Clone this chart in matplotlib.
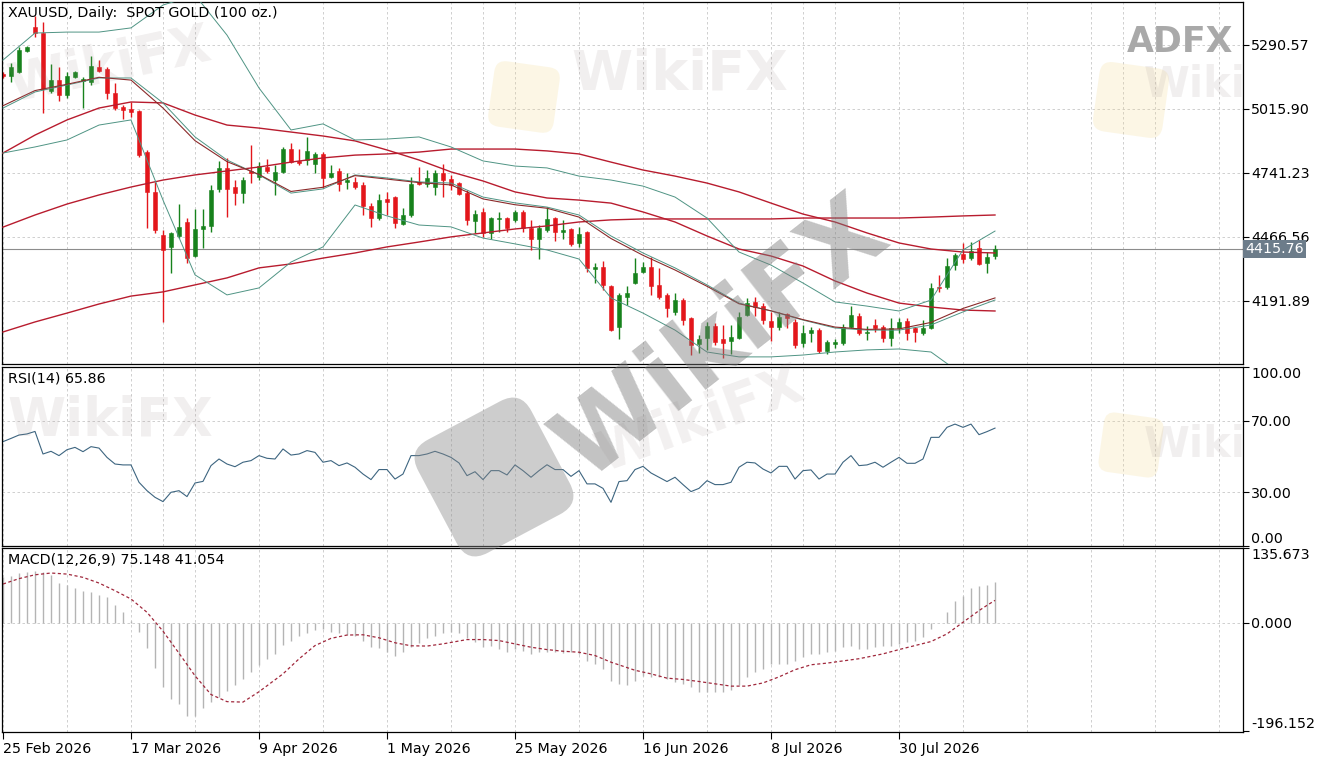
"""XAUUSD daily chart, MT5 style: candles + BB + MAs, RSI(14), MACD(12,26,9)."""

import numpy as np
import matplotlib
matplotlib.use("Agg")
import matplotlib.pyplot as plt
import matplotlib.transforms as mtransforms
from matplotlib.patches import FancyBboxPatch


# ── Data ──────────────────────────────────────────────────────────────────────
DATE_TICKS = [0, 16, 32, 48, 64, 80, 96, 112]
DATE_LABELS = ["25 Feb 2026", "17 Mar 2026", "9 Apr 2026", "1 May 2026",
               "25 May 2026", "16 Jun 2026", "8 Jul 2026", "30 Jul 2026"]

OPEN = [5166, 5158, 5175, 5265, 5368, 5342, 5093, 5140, 5076, 5153,
        5136, 5132, 5196, 5188, 5085, 5024, 5016, 5007, 4831, 4660,
        4475, 4424, 4471, 4531, 4385, 4501, 4514, 4673, 4763, 4681,
        4655, 4750, 4724, 4767, 4711, 4746, 4844, 4793, 4797, 4780,
        4823, 4724, 4750, 4703, 4703, 4690, 4600, 4548, 4630, 4638,
        4522, 4561, 4703, 4694, 4681, 4741, 4716, 4698, 4655, 4535,
        4574, 4484, 4544, 4548, 4540, 4574, 4505, 4458, 4497, 4548,
        4488, 4501, 4441, 4488, 4329, 4338, 4256, 4080, 4209, 4269,
        4316, 4338, 4261, 4218, 4145, 4196, 4119, 4007, 4033, 4085,
        4029, 4020, 4033, 4132, 4188, 4170, 4106, 4080, 4136, 4102,
        4012, 4055, 4067, 3977, 4007, 4012, 4080, 4128, 4055, 4089,
        4080, 4033, 4076, 4106, 4076, 4055, 4076, 4252, 4252, 4346,
        4394, 4376, 4419, 4355, 4385]
HIGH = [5175, 5213, 5282, 5286, 5415, 5389, 5209, 5196, 5175, 5179,
        5153, 5243, 5226, 5196, 5128, 5033, 5046, 5012, 4840, 4703,
        4497, 4488, 4608, 4548, 4587, 4587, 4690, 4793, 4806, 4711,
        4724, 4861, 4788, 4801, 4776, 4853, 4870, 4844, 4896, 4831,
        4831, 4776, 4763, 4741, 4724, 4703, 4613, 4651, 4660, 4643,
        4591, 4724, 4767, 4754, 4754, 4780, 4733, 4703, 4668, 4582,
        4591, 4552, 4574, 4552, 4582, 4582, 4540, 4518, 4595, 4552,
        4540, 4505, 4510, 4492, 4355, 4364, 4261, 4226, 4256, 4376,
        4359, 4381, 4334, 4226, 4226, 4205, 4123, 4046, 4102, 4098,
        4089, 4089, 4145, 4205, 4209, 4183, 4145, 4145, 4140, 4115,
        4089, 4080, 4076, 4025, 4029, 4093, 4170, 4140, 4085, 4115,
        4089, 4119, 4119, 4119, 4080, 4110, 4269, 4304, 4376, 4398,
        4441, 4445, 4454, 4402, 4432]
LOW = [5149, 5132, 5170, 5261, 5325, 4999, 5085, 5050, 5063, 5149,
       5020, 5119, 5175, 5059, 5012, 4973, 4982, 4810, 4505, 4484,
       4102, 4312, 4462, 4355, 4381, 4419, 4488, 4660, 4552, 4604,
       4613, 4698, 4711, 4741, 4647, 4741, 4784, 4776, 4776, 4741,
       4677, 4720, 4664, 4673, 4673, 4561, 4510, 4540, 4561, 4505,
       4518, 4552, 4690, 4681, 4647, 4638, 4668, 4647, 4518, 4484,
       4467, 4458, 4488, 4488, 4531, 4488, 4411, 4372, 4488, 4449,
       4458, 4428, 4424, 4316, 4269, 4239, 4063, 4029, 4175, 4265,
       4312, 4218, 4200, 4123, 4132, 4089, 3960, 3969, 3982, 4003,
       3947, 3964, 4029, 4128, 4128, 4093, 4020, 4067, 4076, 3990,
       3995, 4016, 3969, 3964, 3990, 4003, 4076, 4046, 4025, 4059,
       4016, 3999, 4055, 4025, 4016, 4046, 4072, 4231, 4243, 4325,
       4355, 4368, 4346, 4312, 4372]
CLOSE = [5158, 5196, 5269, 5282, 5342, 5102, 5140, 5076, 5158, 5175,
         5145, 5200, 5179, 5085, 5020, 5012, 5003, 4818, 4660, 4497,
         4411, 4484, 4510, 4376, 4501, 4514, 4668, 4763, 4673, 4655,
         4711, 4741, 4771, 4750, 4746, 4844, 4788, 4784, 4836, 4823,
         4720, 4741, 4694, 4711, 4681, 4600, 4548, 4625, 4617, 4527,
         4561, 4694, 4694, 4720, 4741, 4711, 4690, 4651, 4540, 4565,
         4484, 4548, 4548, 4505, 4574, 4505, 4458, 4505, 4544, 4488,
         4497, 4437, 4479, 4334, 4338, 4261, 4067, 4218, 4226, 4312,
         4338, 4256, 4209, 4162, 4196, 4110, 4003, 4029, 4085, 4016,
         4012, 4037, 4123, 4183, 4166, 4110, 4080, 4123, 4119, 4003,
         4055, 4067, 3977, 4016, 4016, 4080, 4132, 4055, 4059, 4076,
         4033, 4076, 4102, 4055, 4059, 4076, 4248, 4248, 4342, 4389,
         4372, 4407, 4351, 4381, 4415.76]

# smooth overlays sampled every 4th bar
LINE_BARS = list(range(0, 125, 4))
BB_UPPER = [5226, 5342, 5346, 5346, 5364, 5462, 5505, 5333, 5106, 4926,
            4952, 4883, 4887, 4896, 4853, 4793, 4771, 4763, 4728, 4711,
            4685, 4638, 4548, 4402, 4346, 4269, 4188, 4170, 4149, 4196,
            4411, 4492]
BB_MID = [5020, 5089, 5119, 5149, 5149, 5042, 4896, 4797, 4733, 4655,
          4673, 4733, 4720, 4703, 4698, 4638, 4613, 4595, 4561, 4471,
          4398, 4334, 4261, 4183, 4149, 4110, 4076, 4067, 4067, 4089,
          4145, 4196]
BB_LOWER = [4827, 4853, 4883, 4947, 4969, 4625, 4304, 4218, 4248, 4359,
            4424, 4604, 4557, 4518, 4510, 4462, 4437, 4411, 4372, 4205,
            4140, 4067, 3973, 3952, 3952, 3960, 3973, 3982, 3986, 3973,
            3874, 3887]
FAST_MA = [5030, 5095, 5122, 5152, 5140, 5020, 4880, 4790, 4735, 4662,
           4680, 4730, 4715, 4700, 4690, 4630, 4605, 4590, 4552, 4460,
           4388, 4325, 4255, 4180, 4150, 4112, 4080, 4070, 4072, 4100,
           4160, 4205]
MA50 = [4827, 4904, 4969, 5020, 5046, 5042, 4990, 4947, 4934, 4917,
        4900, 4879, 4840, 4797, 4746, 4707, 4660, 4634, 4625, 4612,
        4574, 4531, 4471, 4415, 4385, 4342, 4278, 4226, 4183, 4166,
        4153, 4149]
MA100 = [4509, 4561, 4608, 4647, 4681, 4711, 4733, 4750, 4767, 4788,
         4806, 4818, 4823, 4831, 4844, 4844, 4844, 4836, 4823, 4788,
         4754, 4728, 4698, 4660, 4612, 4565, 4531, 4484, 4441, 4415,
         4402, 4398]
MA200 = [4059, 4102, 4140, 4179, 4213, 4231, 4261, 4291, 4334, 4351,
         4376, 4398, 4424, 4445, 4467, 4484, 4501, 4514, 4531, 4540,
         4544, 4544, 4544, 4544, 4544, 4548, 4548, 4548, 4548, 4552,
         4557, 4561]

RSI = [58.3, 60.1, 62.0, 62.6, 64.0, 51.4, 52.9, 50.5, 53.8, 55.1,
       52.7, 55.5, 54.7, 49.5, 45.8, 45.3, 45.3, 35.6, 30.9, 27.2,
       24.8, 30.0, 30.9, 27.6, 35.2, 36.1, 44.9, 48.6, 45.8, 44.3,
       46.8, 47.7, 50.5, 49.0, 48.6, 54.2, 50.8, 51.4, 53.3, 52.3,
       46.8, 47.7, 44.9, 46.4, 44.0, 40.2, 37.1, 42.7, 42.7, 37.4,
       40.2, 50.5, 50.5, 51.4, 52.9, 51.4, 49.5, 46.4, 39.3, 41.5,
       37.1, 42.1, 42.1, 39.7, 45.3, 42.1, 38.4, 42.1, 45.4, 42.7,
       42.7, 38.9, 42.1, 34.7, 34.7, 32.2, 24.4, 36.0, 36.5, 42.7,
       44.5, 40.8, 38.4, 36.0, 38.4, 34.3, 30.4, 32.2, 36.5, 34.3,
       34.3, 35.6, 44.0, 46.8, 46.4, 43.0, 40.8, 44.5, 44.5, 37.4,
       42.1, 42.5, 37.4, 40.2, 40.2, 46.8, 50.5, 44.9, 45.3, 46.8,
       44.0, 46.8, 49.5, 46.2, 46.2, 48.6, 60.7, 60.7, 66.3, 68.1,
       66.3, 68.1, 62.2, 63.9, 65.86]

MACD_MAIN = [82.8, 85.8, 90.7, 93.1, 94.9, 91.9, 87.0, 71.9, 68.9, 62.9,
             58.6, 55.6, 50.8, 46.5, 32.6, 19.3, 4.2, -16.9, -45.9, -82.2,
             -116.6, -137.8, -146.9, -169.2, -169.2, -154.7, -143.8, -134.8, -124.5, -112.4,
             -101.5, -89.5, -76.2, -65.3, -56.2, -39.9, -32.0, -23.0, -18.1, -12.1,
             -10.9, -15.7, -18.1, -21.8, -24.2, -32.0, -44.1, -45.9, -52.0, -59.2,
             -53.2, -44.1, -36.3, -27.8, -23.0, -18.1, -15.7, -18.1, -27.8, -35.1,
             -44.1, -41.1, -47.1, -53.2, -47.1, -50.2, -56.2, -53.2, -52.0, -53.2,
             -54.4, -53.2, -56.2, -68.3, -74.3, -83.4, -104.6, -110.6, -112.4, -104.6,
             -95.5, -98.5, -98.5, -101.5, -107.6, -110.6, -116.6, -125.7, -125.7, -125.7,
             -125.7, -122.7, -113.6, -98.5, -89.5, -83.4, -74.3, -74.3, -74.3, -68.3,
             -62.3, -56.2, -56.2, -53.2, -50.2, -44.1, -41.1, -47.1, -47.1, -44.1,
             -41.1, -41.1, -38.1, -35.1, -32.0, -26.0, -10.9, -1.0, 19.3, 40.5,
             49.6, 62.9, 66.5, 68.9, 75.148]
SIG_BARS = [0, 2, 4, 6, 8, 10, 12, 14, 16, 18, 20, 22, 24, 26, 28, 30, 32,
            35, 37, 39, 41, 43, 45, 47, 49, 51, 53, 55, 58, 60, 62, 64, 66,
            68, 70, 72, 74, 76, 79, 81, 83, 85, 87, 89, 91, 93, 95, 97, 99,
            101, 103, 105, 107, 110, 112, 114, 116, 118, 120, 122, 123, 124]
MACD_SIGNAL = [70.7, 80.5, 87.5, 90.7, 88.8, 82.8, 72.5, 58.6, 43.5, 19.3,
               -15.0, -55.0, -96.0, -130.0, -143.0, -143.8, -125.0,
               -92.5, -65.3, -41.1, -28.0, -22.0, -21.5, -27.0, -36.0, -41.5,
               -42.0, -38.0, -30.2, -30.2, -32.0, -38.1, -44.1, -48.4, -51.4,
               -53.2, -59.2, -71.3, -86.0, -92.5, -100.3, -102.7, -106.4,
               -110.6, -114.8, -114.8, -109.0, -98.0, -85.0, -76.0, -73.0,
               -69.0, -65.0, -56.2, -48.4, -41.1, -33.8, -19.9, 1.2, 22.4,
               32.0, 41.054]

PRICE_TICKS = [5290.57, 5015.90, 4741.23, 4466.56, 4191.89]
LAST_PRICE = 4415.76
RSI_LAST = 65.86
MACD_RANGE = (-196.152, 135.673)


# ── Style ─────────────────────────────────────────────────────────────────────
W, H = 1330, 760
LEFT, RIGHT = 2, 1243
BULL = "#17821c"
BEAR = "#e3161b"
BB_COLOR = "#4f9484"
MA_COLOR = "#b81c2e"
FAST_COLOR = "#8b2a2a"
GRID = dict(color="#c8c8c8", lw=0.6, ls=(0, (3, 3)))
FS = 10.3

plt.rcParams["font.family"] = ["DejaVu Sans"]


def panel(fig, top, bottom):
    """Add an axes spanning figure pixel rows top..bottom."""
    ax = fig.add_axes([LEFT / W, 1 - bottom / H, (RIGHT - LEFT) / W, (bottom - top) / H])
    ax.set_xlim(-0.125, 155)
    ax.set_xticks(np.arange(0, 156, 8), minor=True)
    ax.grid(which="both", axis="x", **GRID)
    ax.tick_params(which="minor", length=0)
    ax.yaxis.tick_right()
    ax.tick_params(axis="y", direction="out", length=4, pad=2, labelsize=FS, width=0.8)
    ax.tick_params(axis="x", which="major", bottom=False, labelbottom=False)
    for s in ax.spines.values():
        s.set_color("black")
        s.set_linewidth(0.9)
    ax.set_axisbelow(True)
    return ax


def draw_price(ax):
    x = np.arange(len(OPEN))
    o, h, l, c = (np.array(a, dtype=float) for a in (OPEN, HIGH, LOW, CLOSE))
    colors = np.where(c >= o, BULL, BEAR)

    for y in PRICE_TICKS:
        ax.axhline(y, zorder=0, **GRID)
    ax.axhline(LAST_PRICE, color="#8c8c8c", lw=0.8, zorder=1)

    ax.vlines(x, l, h, colors=colors, lw=1.0, zorder=2)
    body_lo = np.minimum(o, c)
    body_h = np.maximum(np.abs(c - o), 4.0)
    ax.bar(x, body_h, bottom=body_lo, width=0.62, color=colors,
           edgecolor=colors, linewidth=0.4, zorder=2)

    ax.plot(LINE_BARS, MA200, color=MA_COLOR, lw=1.0, zorder=3)
    ax.plot(LINE_BARS, MA100, color=MA_COLOR, lw=1.0, zorder=3)
    ax.plot(LINE_BARS, MA50, color=MA_COLOR, lw=1.0, zorder=3)
    ax.plot(LINE_BARS, BB_UPPER, color=BB_COLOR, lw=0.7, zorder=3)
    ax.plot(LINE_BARS, BB_LOWER, color=BB_COLOR, lw=0.7, zorder=3)
    ax.plot(LINE_BARS, BB_MID, color=BB_COLOR, lw=0.7, zorder=3)
    ax.plot(LINE_BARS, FAST_MA, color=FAST_COLOR, lw=0.8, zorder=3)

    ax.set_ylim(3921.5, 5475.1)
    ax.set_yticks(PRICE_TICKS, ["%.2f" % v for v in PRICE_TICKS])

    trans = mtransforms.blended_transform_factory(ax.transAxes, ax.transData)
    ax.text(1.0018, LAST_PRICE, "%.2f" % LAST_PRICE, transform=trans,
            ha="left", va="center", color="white", fontsize=FS, zorder=10,
            bbox=dict(boxstyle="square,pad=0.15", fc="#6c7c8a", ec="none"),
            clip_on=False)
    ax.text(0.005, 0.988, "XAUUSD, Daily:  SPOT GOLD (100 oz.)",
            transform=ax.transAxes, ha="left", va="top", fontsize=FS)


def draw_rsi(ax):
    x = np.arange(len(RSI))
    for y in (70, 30):
        ax.axhline(y, zorder=0, **GRID)
    ax.plot(x, RSI, color="#3d6580", lw=0.8)
    ax.set_ylim(0, 100)
    ax.set_yticks([100, 70, 30, 0], ["100.00", "70.00", "30.00", "0.00"])
    lbls = ax.get_yticklabels()
    lbls[0].set_va("top")
    lbls[-1].set_va("bottom")
    ax.text(0.005, 0.975, "RSI(14) %.2f" % RSI_LAST, transform=ax.transAxes,
            ha="left", va="top", fontsize=FS)


def draw_macd(ax):
    x = np.arange(len(MACD_MAIN))
    ax.axhline(0, zorder=0, **GRID)
    ax.vlines(x, 0, MACD_MAIN, colors="#b4b4b4", lw=1.0)
    ax.plot(SIG_BARS, MACD_SIGNAL, color="#a0283c", lw=0.9, ls=(0, (2.5, 2)))
    lo, hi = MACD_RANGE
    ax.set_ylim(lo - 2.0, hi + 0.5)
    ax.set_yticks([hi, 0, lo], ["%.3f" % hi, "0.000", "%.3f" % lo])
    lbls = ax.get_yticklabels()
    lbls[0].set_va("top")
    lbls[-1].set_va("bottom")
    ax.set_xticks(DATE_TICKS, DATE_LABELS)
    ax.tick_params(axis="x", which="major", bottom=True, labelbottom=True,
                   direction="out", length=5, pad=2, labelsize=FS, width=0.8)
    for t in ax.get_xticklabels():
        t.set_ha("left")
    ax.text(0.005, 0.975, "MACD(12,26,9) %.3f %.3f" % (MACD_MAIN[-1], MACD_SIGNAL[-1]),
            transform=ax.transAxes, ha="left", va="top", fontsize=FS)


def add_watermarks(fig):
    """Site watermarks that sit over the screenshot (pixel coords, top-left origin)."""
    def fx(px, py):
        return px / W, 1 - py / H

    def logo(cx, cy, size, angle, color, alpha):
        rot = mtransforms.Affine2D().rotate_deg_around(cx, H - cy, angle)
        p = FancyBboxPatch((cx - size / 2, H - cy - size / 2), size, size,
                           boxstyle="round,pad=0,rounding_size=%g" % (size * 0.18),
                           fc=color, ec="none", alpha=alpha, transform=rot, zorder=19)
        fig.patches.append(p)

    logo(524, 97, 66, -8, "#f2d98c", 0.22)
    logo(1131, 100, 70, -8, "#f2d98c", 0.22)
    logo(1131, 445, 60, -8, "#f2d98c", 0.22)
    logo(494, 477, 128, 28, "#8a8a8a", 0.42)

    fig.text(*fx(1180, 42), "ADFX", ha="center", va="center", fontsize=25,
             fontweight="heavy", color="#a9a9a9", zorder=20)
    faint = dict(ha="center", va="center", fontweight="bold", color="#9a8a8a",
                 alpha=0.13, zorder=20)
    fig.text(*fx(110, 65), "WikiFX", fontsize=38, rotation=12, **faint)
    fig.text(*fx(680, 75), "WikiFX", fontsize=40, **faint)
    fig.text(*fx(1195, 85), "Wiki", fontsize=30, **faint)
    fig.text(*fx(110, 420), "WikiFX", fontsize=38, **faint)
    fig.text(*fx(700, 420), "WikiFX", fontsize=40, rotation=20, **faint)
    fig.text(*fx(1195, 445), "Wiki", fontsize=30, **faint)
    fig.text(*fx(722, 340), "WikiFX", fontsize=72, rotation=38, ha="center",
             va="center", fontweight="bold", color="#7a7a7a", alpha=0.45, zorder=20)


def main():
    fig = plt.figure(figsize=(W / 100, H / 100), dpi=100)
    ax_p = panel(fig, 2, 364)
    ax_r = panel(fig, 367, 546)
    ax_m = panel(fig, 548, 732)
    draw_price(ax_p)
    draw_rsi(ax_r)
    draw_macd(ax_m)
    add_watermarks(fig)
    fig.savefig("out.png", dpi=100, facecolor="white")


if __name__ == "__main__":
    main()
